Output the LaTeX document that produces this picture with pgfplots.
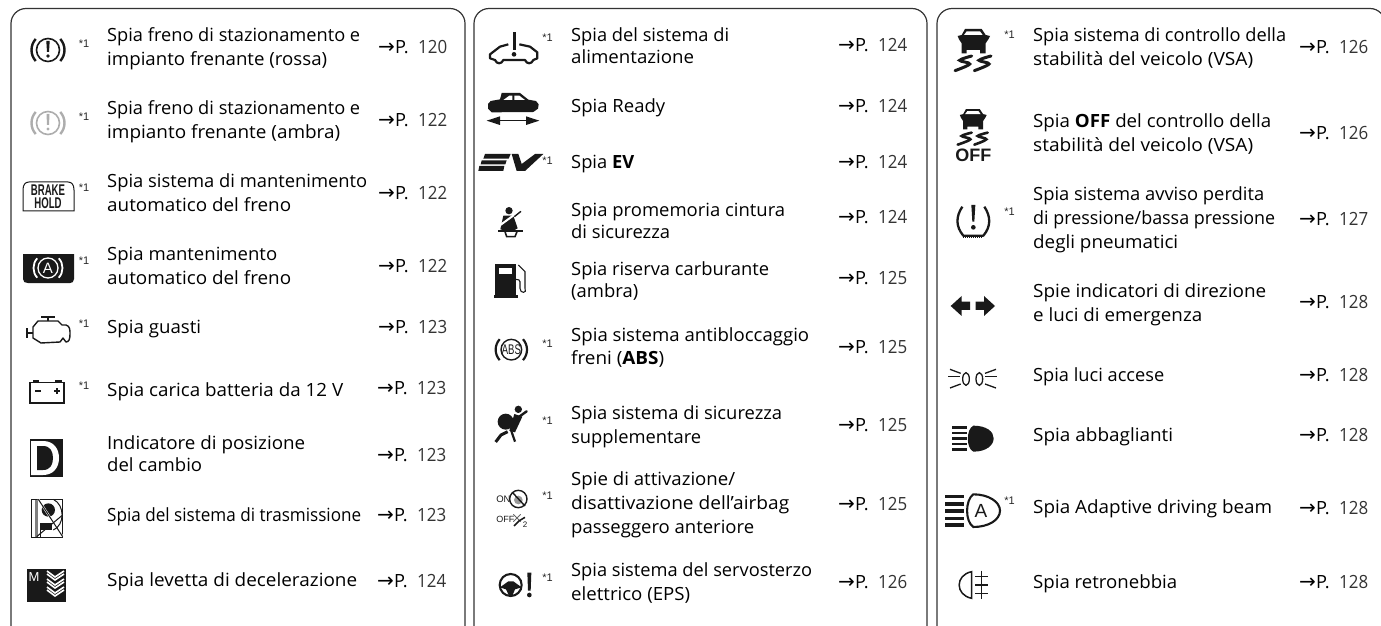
\documentclass[border=0pt]{standalone}
\usepackage{pgfplots}
\usepackage{fontspec}
\pgfplotsset{compat=1.18}
\setmainfont{Open Sans}
\newfontfamily\arrowfont{DejaVu Sans}
\newfontfamily\lib{Liberation Sans}
\newcommand{\T}[4]{\node[anchor=base west,inner sep=0pt,text=black] at (axis cs:#1,#2) {\resizebox{\dimexpr #3pt-#1pt\relax}{\height}{\fontsize{18.2}{18.2}\selectfont #4}};}
\newcommand{\PG}[3]{\node[anchor=base west,inner sep=0pt,text=black] at (axis cs:#1,#2) {\fontsize{18.2}{18.2}\selectfont\makebox[40pt][l]{\makebox[17pt][l]{\arrowfont\fontsize{20}{20}\selectfont →}P.}\textcolor{black!80}{\scalebox{.93}[1]{#3}}};}
\newcommand{\ST}[2]{\node[inner sep=0pt,text=black!85] at (axis cs:#1,#2) {\lib\fontsize{11}{11}\selectfont *1};}
\newcommand{\sidearcs}[3]{%
 \draw ([shift={(#1,#2)}]#3*0.743,-#3*0.669) arc[start angle=-42,end angle=42,radius=#3];
 \draw ([shift={(#1,#2)}]-#3*0.743,-#3*0.669) arc[start angle=222,end angle=138,radius=#3];}
\begin{document}
\begin{tikzpicture}
\begin{axis}[scale only axis,width=1381pt,height=625pt,xmin=0,xmax=1381,ymin=0,ymax=625,y dir=reverse,hide axis]
\addplot[line width=1.2pt,black!80,rounded corners=15pt,mark=none] coordinates {(11,628)(11,8.5)(465,8.5)(465,628)};
\addplot[line width=1.2pt,black!80,rounded corners=15pt,mark=none] coordinates {(474,628)(474,8.5)(927,8.5)(927,628)};
\addplot[line width=1.2pt,black!80,rounded corners=15pt,mark=none] coordinates {(937,628)(937,8.5)(1385,8.5)(1385,628)};
% panel 1
\T{107}{41}{360}{Spia freno di stazionamento e}\T{107}{65}{327}{impianto frenante (rossa)}\PG{378}{53}{120}\ST{84}{44}
\T{107}{114}{360}{Spia freno di stazionamento e}\T{107}{138}{340}{impianto frenante (ambra)}\PG{378}{126}{122}\ST{84}{117}
\T{107}{187}{367}{Spia sistema di mantenimento}\T{107}{211}{291}{automatico del freno}\PG{378}{199}{122}\ST{84}{188}
\T{107}{260}{277}{Spia mantenimento}\T{107}{284}{291}{automatico del freno}\PG{378}{272}{122}\ST{84}{261}
\T{107}{333}{201}{Spia guasti}\PG{378}{333}{123}\ST{84}{324}
\T{107}{396}{343}{Spia carica batteria da 12 V}\PG{377}{394}{123}\ST{84}{386}
\T{107}{449}{305}{Indicatore di posizione}\T{107}{471}{202}{del cambio}\PG{377}{461}{123}
\T{107}{521}{361}{Spia del sistema di trasmissione}\PG{377}{521}{123}
\T{107}{586}{357}{Spia levetta di decelerazione}\PG{377}{587}{124}
% panel 2
\T{571}{41}{729}{Spia del sistema di}\T{571}{63}{694}{alimentazione}\PG{838}{51}{124}\ST{547.5}{38}
\T{571}{112}{665}{Spia Ready}\PG{838}{112}{124}
\T{571}{168}{634}{Spia \textbf{EV}}\PG{838}{168}{124}\ST{547.5}{161}
\T{571}{216}{785}{Spia promemoria cintura}\T{571}{238}{670}{di sicurezza}\PG{838}{223}{124}
\T{571}{275}{769}{Spia riserva carburante}\T{571}{297}{638}{(ambra)}\PG{838}{284}{125}
\T{571}{341}{809}{Spia sistema antibloccaggio}\T{571}{364}{664}{freni (\textbf{ABS})}\PG{838}{353}{125}\ST{547.5}{344}
\T{571}{419}{782}{Spia sistema di sicurezza}\T{571}{443}{701}{supplementare}\PG{838}{431}{125}\ST{547.5}{421}
\T{571}{485}{735}{Spie di attivazione/}\T{571}{509}{789}{disattivazione dell'airbag}\T{571}{533}{754}{passeggero anteriore}\PG{838}{510}{125}\ST{547.5}{496}
\T{571}{576}{812}{Spia sistema del servosterzo}\T{571}{600}{690}{elettrico (EPS)}\PG{838}{588}{126}\ST{547.5}{578}
% panel 3
\T{1033}{41}{1286}{Spia sistema di controllo della}\T{1033}{65}{1253}{stabilità del veicolo (VSA)}\PG{1299}{53}{126}\ST{1009.5}{35}
\T{1033}{127}{1271}{Spia \textbf{OFF} del controllo della}\T{1033}{151}{1253}{stabilità del veicolo (VSA)}\PG{1299}{139}{126}
\T{1033}{200}{1264}{Spia sistema avviso perdita}\T{1033}{224}{1275}{di pressione/bassa pressione}\T{1033}{248}{1178}{degli pneumatici}\PG{1299}{225}{127}\ST{1009.5}{212}
\T{1033}{297}{1266}{Spie indicatori di direzione}\T{1033}{321}{1202}{e luci di emergenza}\PG{1299}{308}{128}
\T{1033}{381}{1164}{Spia luci accese}\PG{1299}{381}{128}
\T{1033}{441}{1173}{Spia abbaglianti}\PG{1299}{441}{128}
\T{1033}{513}{1272}{Spia Adaptive driving beam}\PG{1299}{514}{128}\ST{1009.5}{501}
\T{1033}{588}{1177}{Spia retronebbia}\PG{1299}{588}{128}
\end{axis}
\begin{scope}[x=1pt,y=-1pt,yshift=625pt,line width=1.3pt,black!90,line cap=butt]
% ===== panel 1 icons
\begin{scope}[line width=2.4pt]\sidearcs{48}{50}{16.5}\end{scope}
\draw[line width=1.6pt] (48,50) circle (11.5);
\fill (46.3,41) -- (49.7,41) -- (49,52) -- (47,52) -- cycle; \fill (48,56) circle (1.8);
\begin{scope}[black!32]
\begin{scope}[line width=2.4pt]\sidearcs{48}{123}{16.5}\end{scope}
\draw[line width=1.6pt] (48,123) circle (11.5);
\fill (46.5,114) -- (49.5,114) -- (49,125) -- (47,125) -- cycle; \fill (48,129) circle (1.7);
\end{scope}
\draw[line width=1pt] (23,211) -- (23,190) .. controls (23,185) and (25,182) .. (29,182) -- (68,182) .. controls (72,182) and (74,185) .. (74,190) -- (74,211) -- cycle;
\node[xscale=.62,inner sep=0pt] at (48,190) {\lib\bfseries\fontsize{15.5}{15.5}\selectfont BRAKE};
\node[xscale=.62,inner sep=0pt] at (48,203) {\lib\bfseries\fontsize{15.5}{15.5}\selectfont HOLD};
\fill (23,254) -- (74,254) -- (74,279) .. controls (74,282) and (72,283) .. (70,283) -- (28,283) .. controls (25,283) and (23,282) .. (23,279) -- cycle;
\begin{scope}[white,line width=1.8pt]\sidearcs{48}{268}{14.5}\end{scope}
\draw[white,line width=1.3pt] (48,268) circle (10);
\node[inner sep=0pt,white] at (48,268) {\lib\fontsize{15}{15}\selectfont A};
% engine
\begin{scope}[line width=1.4pt,line join=round]
\draw[line width=1.8pt] (41,317) -- (55,317); \draw (48,317) -- (48,321);
\draw (27,328) -- (27,338); \draw (27,333) -- (33,333);
\draw (33,327) -- (38,321) -- (58,321) -- (62,325) -- (66,325) .. controls (70,326) and (70,330) .. (70,334) .. controls (70,339) and (69,342) .. (66,342) -- (63,338) -- (60,342) -- (41,343) -- (33,338) -- cycle;
\end{scope}
% battery
\draw[line width=1.1pt] (30,382.5) rectangle (64,403);
\draw[line width=1.6pt] (30,382.5) -- (64,382.5);
\fill (33,380) rectangle (39,382); \fill (55,380) rectangle (62,382);
\fill (35,390) rectangle (41,392); \fill (54,390) rectangle (60,392); \fill (56,388) rectangle (58,394);
% D
\fill (30,439) rectangle (63,477);
\fill[white] (31,441) -- (43,441) .. controls (54,441) and (59,449) .. (59,458) .. controls (59,468) and (53,475) .. (43,475) -- (31,475) -- cycle;
\fill[black!90] (37,446) -- (43,446) .. controls (50,446) and (53,451) .. (53,458) .. controls (53,465) and (50,470) .. (43,470) -- (37,470) -- cycle;
% transmission
\begin{scope}[shift={(20,430)},scale=.33333]
\fill[black!50] (45,208) rectangle (55,322);
\fill (85,240) circle (20);
\fill (60,280) rectangle (95,300);
\draw[line width=1pt] (33,208) rectangle (128,322);
\draw[white,line width=2pt] (55,208) -- (128,320);
\draw[line width=1pt] (55,208) -- (128,320);
\draw[line width=1pt] (50,320) -- (128,255);
\draw[line width=1pt] (100,208) .. controls (135,225) and (135,285) .. (100,300);
\draw[line width=1pt] (62,322) -- (62,280);
\end{scope}
% M
\fill (27,569) rectangle (66,602);
\node[inner sep=0pt,white] at (34,577) {\lib\fontsize{13}{13}\selectfont M};
\begin{scope}[white,line width=1.6pt]
\draw (47,571) -- (55,577) -- (64,571); \draw (47,579) -- (55,585) -- (64,579); \draw (47,587) -- (55,593) -- (64,587);
\draw (47,574) -- (55,580) -- (64,574); \draw (47,582) -- (55,588) -- (64,582); \draw (47,590) -- (55,596) -- (64,590);
\end{scope}
% ===== panel 2 icons
\begin{scope}[shift={(480,25)},scale=.33333]
\draw[line width=2.2pt,line join=round] (85,58) -- (60,65) -- (30,88) -- (30,100) -- (45,105) .. controls (50,118) and (65,118) .. (70,105) -- (135,105) .. controls (140,118) and (155,118) .. (160,105) -- (172,100) -- (172,82) -- (150,65) -- (118,58);
\fill (98,20) rectangle (107,75); \fill (102,88) circle (7);
\end{scope}
\begin{scope}[shift={(460,0)},scale=.33333]
% ready car
\fill (125,279) -- (180,279) -- (205,299) -- (228,303) -- (236,313) -- (234,326) -- (220,336) -- (95,337) -- (84,326) -- (84,312) -- (92,303) -- (120,298) -- cycle;
\fill[white] (130,300) -- (148,287) -- (157,287) -- (157,300) -- cycle;
\fill[white] (163,287) -- (178,287) -- (195,300) -- (163,300) -- cycle;
\draw[line width=1.6pt] (110,362) -- (210,362);
\fill (80,362) -- (120,349) -- (120,375) -- cycle; \fill (238,362) -- (198,349) -- (198,375) -- cycle;
% EV
\fill (75,462) -- (152,462) -- (146,476) -- (70,476) -- cycle;
\fill (65,481) -- (140,481) -- (136,493) -- (62,493) -- cycle;
\fill (58,498) -- (133,498) -- (130,513) -- (55,513) -- cycle;
\fill (155,462) -- (175,462) -- (185,492) -- (225,462) -- (250,462) -- (195,513) -- (170,513) -- cycle;
\end{scope}
\begin{scope}[shift={(485,200)},scale=.33333]
\fill (72,32) circle (11);
\fill (55,47) -- (85,47) -- (98,85) -- (85,92) -- (60,92) -- (46,88) -- cycle;
\draw[white,line width=2pt] (42,78) -- (105,32);
\draw[line width=1.4pt] (88,50) -- (108,34);
\draw[line width=1.6pt] (40,93) -- (115,93);
\draw[line width=1.6pt] (60,95) -- (65,110) -- (90,110) -- (96,95);
\fill (30,192) rectangle (92,285); \fill[white] (43,203) rectangle (80,222);
\fill (27,285) rectangle (100,293);
\draw[line width=1.1pt] (100,195) -- (120,215) -- (120,265) .. controls (128,280) and (105,282) .. (105,265) -- (105,245) .. controls (105,240) and (100,238) .. (92,238);
\begin{scope}[line width=2.2pt]\sidearcs{79}{449}{47}\end{scope}
\draw[line width=1.4pt] (79,449) circle (31);
\node[inner sep=0pt,xscale=.68] at (79,449) {\lib\fontsize{14}{14}\selectfont ABS};
\fill (62,665) circle (24); \fill (100,628) circle (11);
\fill (88,642) -- (112,650) -- (90,697) -- (73,692) -- cycle;
\draw[line width=2.4pt,line cap=round] (100,652) -- (125,634);
\draw[line width=3pt] (32,726) -- (48,705) -- (68,695);
\draw[line width=2.2pt] (78,690) -- (90,725);
\end{scope}
\begin{scope}[shift={(480,480)},scale=.33333]
\node[inner sep=0pt,anchor=west] at (47,58) {\lib\fontsize{9.5}{9.5}\selectfont ON};
\node[inner sep=0pt,anchor=west] at (47,119) {\lib\fontsize{9}{9}\selectfont OFF};
\draw[line width=1.4pt] (115,57) circle (26);
\fill[black!40] (115,60) circle (13);
\draw[line width=1.4pt] (97,37) -- (135,78);
\draw[line width=.8pt,black!60] (100,103) -- (122,125); \draw[line width=.8pt,black!60] (122,103) -- (100,125);
\draw[line width=1.5pt] (102,138) -- (118,122) -- (135,112);
\node[inner sep=0pt] at (135,133) {\lib\fontsize{8}{8}\selectfont 2};
\draw[line width=2.1pt] (92,315) circle (33);
\fill (60,322) -- (85,304) -- (100,304) -- (125,322) -- (105,328) -- (98,345) -- (86,345) -- (78,328) -- cycle;
\fill (142,278) -- (154,278) -- (152,332) -- (144,332) -- cycle; \fill (148,345) circle (7);
\end{scope}
% ===== panel 3 icons
\begin{scope}[shift={(945,20)},scale=.33333]
\def\vsacar{%
\fill (60,27) -- (110,27) -- (122,45) -- (135,48) -- (130,58) -- (122,70) -- (122,100) -- (105,100) -- (105,90) -- (65,90) -- (65,100) -- (50,100) -- (50,70) -- (42,58) -- (38,48) -- (50,45) -- cycle;
\fill[white] (65,34) -- (105,34) -- (113,45) -- (57,45) -- cycle;}
\vsacar
\begin{scope}[line width=3pt,line cap=round]
\draw plot[smooth,tension=.6] coordinates {(80,108) (44,121) (74,132) (30,152)};
\draw plot[smooth,tension=.6] coordinates {(138,108) (102,121) (132,132) (88,152)};
\end{scope}
\begin{scope}[shift={(13,245)},scale=.83]\vsacar\end{scope}
\begin{scope}[line width=2.6pt,line cap=round]
\draw plot[smooth,tension=.6] coordinates {(80,338) (50,348) (76,358) (38,374)};
\draw plot[smooth,tension=.6] coordinates {(128,338) (98,348) (124,358) (88,374)};
\end{scope}
\node[inner sep=0pt] at (85,407) {\lib\bfseries\fontsize{18}{18}\selectfont OFF};
\fill (79,555) -- (91,555) -- (88,605) -- (82,605) -- cycle; \fill (85,622) circle (7);
\draw[line width=2.3pt,line join=round] (52,560) .. controls (32,590) and (32,620) .. (55,647) -- (115,647) .. controls (138,620) and (138,590) .. (118,560);
\draw[line width=1.4pt,dash pattern=on 1pt off 1pt] (55,653) -- (115,653);
\end{scope}
\begin{scope}[shift={(920,0)},scale=.33333]
\fill (92,918) -- (125,888) -- (125,905) -- (150,905) -- (150,930) -- (125,930) -- (125,948) -- cycle;
\fill (225,918) -- (192,888) -- (192,905) -- (167,905) -- (167,930) -- (192,930) -- (192,948) -- cycle;
\end{scope}
\begin{scope}[shift={(920,310)},scale=.33333]
\draw (138,207) ellipse (10 and 19); \draw (178,207) ellipse (10 and 19);
\draw (85,200) -- (120,200); \draw (90,178) -- (122,190); \draw (90,234) -- (122,222);
\draw (195,200) -- (232,200); \draw (195,190) -- (228,178); \draw (195,222) -- (228,234);
\foreach \y in {352,368,385,402,418}{\fill (95,\y-3.5) rectangle (140,\y+3.5);}
\fill (160,347) .. controls (200,347) and (221,365) .. (221,385) .. controls (221,405) and (200,425) .. (160,425) .. controls (138,415) and (138,357) .. (160,347) -- cycle;
\foreach \y in {560,582,603,625,645}{\fill (75,\y-5) rectangle (133,\y+5);}
\draw[line width=2.1pt] (160,553) .. controls (205,553) and (240,575) .. (240,602) .. controls (240,630) and (205,651) .. (160,651) .. controls (135,635) and (135,570) .. (160,553) -- cycle;
\node[inner sep=0pt] at (183,603) {\lib\fontsize{19}{19}\selectfont A};
\draw[line width=1.5pt] (155,785) .. controls (105,795) and (105,855) .. (155,865) -- cycle;
\draw[line width=1.4pt] (185,782) -- (185,868);
\draw[line width=1.4pt] (165,800) -- (205,800); \draw[line width=1.4pt] (165,825) -- (205,825); \draw[line width=1.4pt] (165,850) -- (205,850);
\end{scope}
\end{scope}
\pgfresetboundingbox
\path[use as bounding box] (0,0) rectangle (1381pt,625pt);
\end{tikzpicture}
\end{document}
